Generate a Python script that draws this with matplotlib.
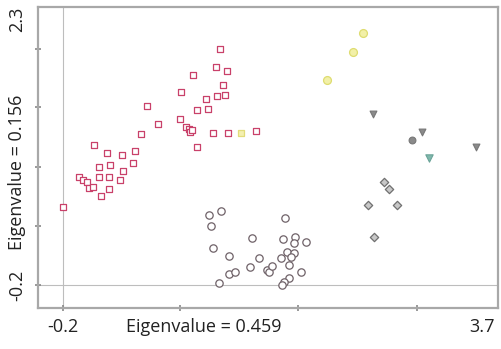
import matplotlib.pyplot as plt

# red squares group
sq_x = [-0.200, -0.057, -0.022, 0.014, 0.032, 0.068, 0.077, 0.121, 0.121, 0.139,
        0.193, 0.210, 0.210, 0.219, 0.309, 0.327, 0.335, 0.425, 0.443, 0.496,
        0.550, 0.648, 0.844, 0.853, 0.898, 0.924, 0.933, 0.951, 0.960, 0.996,
        0.996, 1.076, 1.094, 1.139, 1.165, 1.174, 1.201, 1.228, 1.246, 1.264,
        1.272, 1.522]
sq_y = [0.501, 0.771, 0.744, 0.726, 0.672, 0.681, 1.059, 0.861, 0.771, 0.600,
        0.987, 0.771, 0.663, 0.879, 0.744, 0.969, 0.825, 0.897, 1.005, 1.158,
        1.410, 1.248, 1.293, 1.536, 1.221, 1.203, 1.176, 1.194, 1.689, 1.374,
        1.041, 1.473, 1.383, 1.167, 1.760, 1.500, 1.922, 1.599, 1.509, 1.724,
        1.167, 1.185]
ysq_x = [1.388]
ysq_y = [1.167]

# dark circles group
ci_x = [1.103, 1.210, 1.121, 1.139, 1.281, 1.281, 1.335, 1.192, 1.487, 1.469,
        1.549, 1.620, 1.638, 1.665, 1.745, 1.781, 1.763, 1.870, 1.861, 1.968,
        1.799, 1.861, 1.835, 1.817, 1.924, 1.817, 1.772, 1.754]
ci_y = [0.430, 0.465, 0.331, 0.133, 0.061, -0.101, -0.083, -0.182, 0.223, -0.038,
        0.043, -0.065, -0.083, -0.029, 0.043, 0.403, 0.214, 0.232, 0.178, 0.187,
        0.097, 0.088, 0.052, -0.020, -0.083, -0.137, -0.173, -0.200]

# yellow circles
yc_x = [2.477, 2.388, 2.156]
yc_y = [2.066, 1.895, 1.644]

# grey triangles, teal triangle, grey dot
tr_x = [2.566, 3.004, 3.486]
tr_y = [1.338, 1.176, 1.041]
teal_x = [3.066]
teal_y = [0.942]
dot_x = [2.914]
dot_y = [1.104]

# diamonds
di_x = [2.665, 2.709, 2.522, 2.781, 2.575]
di_y = [0.726, 0.663, 0.519, 0.519, 0.232]

x_ticks = [-0.2, 0.844, 1.897, 2.958]
y_ticks = [-0.2, 0.331, 0.861, 1.401, 1.922]

plt.rcParams['font.family'] = ['Open Sans', 'DejaVu Sans']

fig = plt.figure(figsize=(5.02, 3.49), dpi=100)
ax = fig.add_axes([38 / 502, 1 - 308 / 349, 460 / 502, 301 / 349])

ax.axvline(-0.2, color='#bdbdbd', lw=0.8, zorder=1)
ax.axhline(-0.2, color='#bdbdbd', lw=0.8, zorder=1)

ax.scatter(sq_x, sq_y, marker='s', s=24, facecolors='white', edgecolors='#c9416a', linewidths=0.9, zorder=3)
ax.scatter(ysq_x, ysq_y, marker='s', s=24, facecolors='#f4f0b0', edgecolors='#e2dc7a', linewidths=0.9, zorder=3)
ax.scatter(ci_x, ci_y, marker='o', s=28, facecolors='white', edgecolors='#6f6268', linewidths=0.9, zorder=3)
ax.scatter(yc_x, yc_y, marker='o', s=32, facecolors='#f2f0a8', edgecolors='#dedc70', linewidths=0.9, zorder=3)
ax.scatter(tr_x, tr_y, marker='v', s=24, facecolors='#8a8a8a', edgecolors='#777777', linewidths=0.8, zorder=3)
ax.scatter(teal_x, teal_y, marker='v', s=28, facecolors='#80b8ac', edgecolors='#6aa398', linewidths=0.8, zorder=3)
ax.scatter(dot_x, dot_y, marker='o', s=24, facecolors='#8a8a8a', edgecolors='#777777', linewidths=0.8, zorder=3)
ax.scatter(di_x, di_y, marker='D', s=18, facecolors='#c8c8c8', edgecolors='#6f6f6f', linewidths=0.9, zorder=3)

ax.set_xlim(-0.423, 3.682)
ax.set_ylim(-0.407, 2.3)

for s in ax.spines.values():
    s.set_color('#a8a8a8')
    s.set_linewidth(1.6)

ax.set_xticks(x_ticks)
ax.set_yticks(y_ticks)
ax.set_xticklabels([])
ax.set_yticklabels([])
ax.tick_params(direction='inout', length=4, width=1.2, color='#888888')

txt = dict(fontsize=13, color='#222222')
ax.text(-0.2, -0.063, '-0.2', transform=ax.get_xaxis_transform(), ha='center', va='center', **txt)
ax.text(0.36, -0.063, 'Eigenvalue = 0.459', transform=ax.transAxes, ha='center', va='center', **txt)
ax.text(0.965, -0.063, '3.7', transform=ax.transAxes, ha='center', va='center', **txt)
ax.text(-0.045, -0.2, '-0.2', transform=ax.get_yaxis_transform(), rotation=90, ha='center', va='center', **txt)
ax.text(-0.045, 0.452, 'Eigenvalue = 0.156', transform=ax.transAxes, rotation=90, ha='center', va='center', **txt)
ax.text(-0.045, 0.96, '2.3', transform=ax.transAxes, rotation=90, ha='center', va='center', **txt)

fig.savefig('out.png', dpi=100)
